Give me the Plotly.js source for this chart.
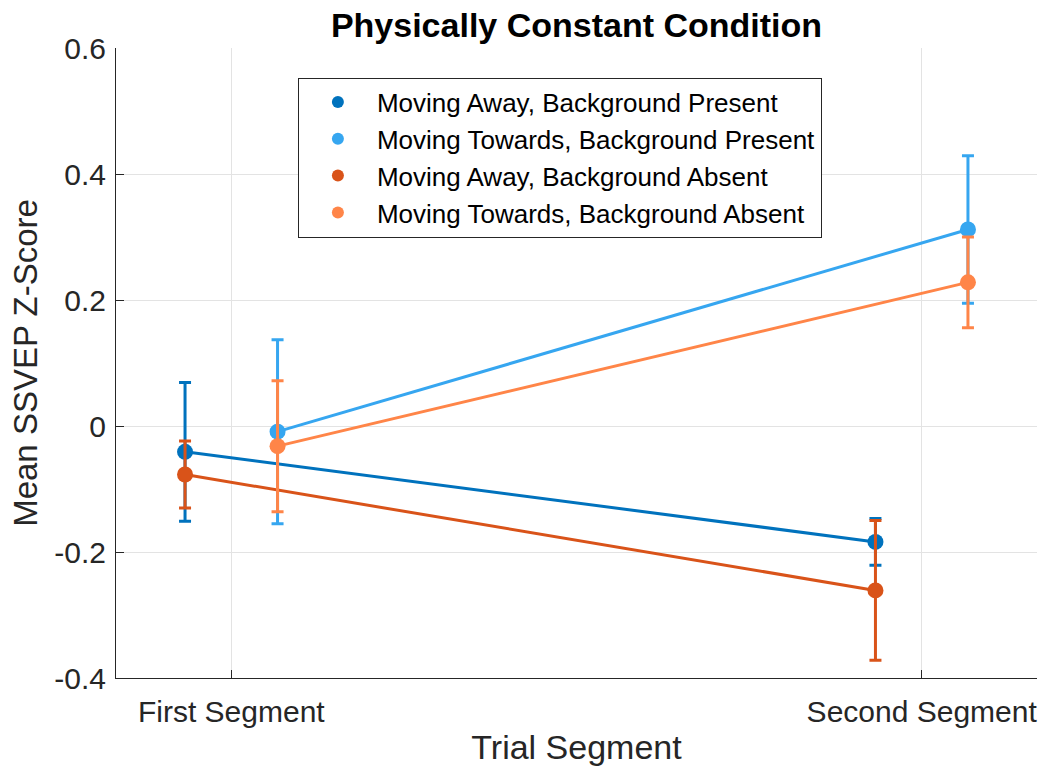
<!DOCTYPE html>
<html>
<head>
<meta charset="utf-8">
<script src="https://cdn.plot.ly/plotly-3.0.1.min.js"></script>
<style>
  html, body { margin: 0; padding: 0; background: #ffffff; }
  #chart { width: 1047px; height: 772px; }
</style>
</head>
<body>
<div id="chart"></div>
<script>
// ---- data ----
const segments = ["First Segment", "Second Segment"];
const seriesNames = [
  "Moving Away, Background Present",
  "Moving Towards, Background Present",
  "Moving Away, Background Absent",
  "Moving Towards, Background Absent"
];
const awayPresent = [-0.041, -0.184];
const awayPresentErr = [0.110, 0.037];
const towardsPresent = [-0.009, 0.312];
const towardsPresentErr = [0.146, 0.117];
const awayAbsent = [-0.077, -0.261];
const awayAbsentErr = [0.053, 0.111];
const towardsAbsent = [-0.032, 0.228];
const towardsAbsentErr = [0.104, 0.072];
const yTickVals = [-0.4, -0.2, 0, 0.2, 0.4, 0.6];
const yTickText = ["-0.4", "-0.2", "0", "0.2", "0.4", "0.6"];

// ---- styling ----
const FONT = "Liberation Sans, Arial, Helvetica, sans-serif";
const colors = ["#0072BD", "#36A6F0", "#D95319", "#FF8548"];
const dodge = 0.067;
const basePos = segments.map((_, i) => i + 1);

function makeTraces(name, y, err, color, offset) {
  const xs = basePos.map(p => p + offset);
  return [
    {
      type: "scatter",
      mode: "lines",
      name: name,
      x: xs,
      y: y,
      line: { color: color, width: 3 },
      showlegend: false,
      legendgroup: name,
      hoverinfo: "skip",
      cliponaxis: false
    },
    {
      type: "scatter",
      mode: "markers",
      name: name,
      x: xs,
      y: y,
      marker: { color: color, size: 16 },
      error_y: { type: "data", array: err, visible: true, color: color, thickness: 3, width: 6 },
      legendgroup: name,
      cliponaxis: false
    }
  ];
}

const traces = [].concat(
  makeTraces(seriesNames[0], awayPresent, awayPresentErr, colors[0], -dodge),
  makeTraces(seriesNames[1], towardsPresent, towardsPresentErr, colors[1], dodge),
  makeTraces(seriesNames[2], awayAbsent, awayAbsentErr, colors[2], -dodge),
  makeTraces(seriesNames[3], towardsAbsent, towardsAbsentErr, colors[3], dodge)
);

const layout = {
  width: 1047,
  height: 772,
  paper_bgcolor: "#ffffff",
  plot_bgcolor: "#ffffff",
  margin: { l: 116, r: 10, t: 48, b: 94, pad: 0 },
  font: { family: FONT, color: "#262626" },
  title: {
    text: "<b>Physically Constant Condition</b>",
    font: { family: FONT, size: 34, color: "#000000" },
    x: 0.5, xanchor: "center", xref: "paper",
    y: 0.968, yanchor: "middle", yref: "container"
  },
  xaxis: {
    range: [0.833, 2.167],
    tickvals: basePos,
    ticktext: segments,
    ticks: "inside",
    ticklen: 8,
    tickcolor: "#262626",
    tickwidth: 1,
    showline: true,
    linecolor: "#262626",
    linewidth: 1,
    mirror: false,
    showgrid: true,
    gridcolor: "#e3e3e3",
    gridwidth: 1,
    zeroline: false,
    ticklabelstandoff: 7,
    tickfont: { family: FONT, size: 30, color: "#262626" },
    title: { text: "Trial Segment", font: { family: FONT, size: 34, color: "#262626" }, standoff: 8 },
    automargin: false
  },
  yaxis: {
    range: [-0.4, 0.6],
    tickvals: yTickVals,
    ticktext: yTickText,
    ticks: "inside",
    ticklen: 8,
    tickcolor: "#262626",
    tickwidth: 1,
    showline: true,
    linecolor: "#262626",
    linewidth: 1,
    mirror: false,
    showgrid: true,
    gridcolor: "#e3e3e3",
    gridwidth: 1,
    zeroline: false,
    ticklabelstandoff: 3,
    tickfont: { family: FONT, size: 30, color: "#262626" },
    title: { text: "Mean SSVEP Z-Score", font: { family: FONT, size: 33, color: "#262626" }, standoff: 6 },
    automargin: false
  },
  showlegend: true,
  legend: {
    x: 0.1975, y: 0.953, xanchor: "left", yanchor: "top",
    xref: "paper", yref: "paper",
    bgcolor: "#ffffff",
    bordercolor: "#262626",
    borderwidth: 1,
    itemwidth: 68,
    itemsizing: "constant",
    font: { family: FONT, size: 26, color: "#000000" },
    traceorder: "normal"
  }
};

Plotly.newPlot("chart", traces, layout, { displayModeBar: false, staticPlot: true });
</script>
</body>
</html>
